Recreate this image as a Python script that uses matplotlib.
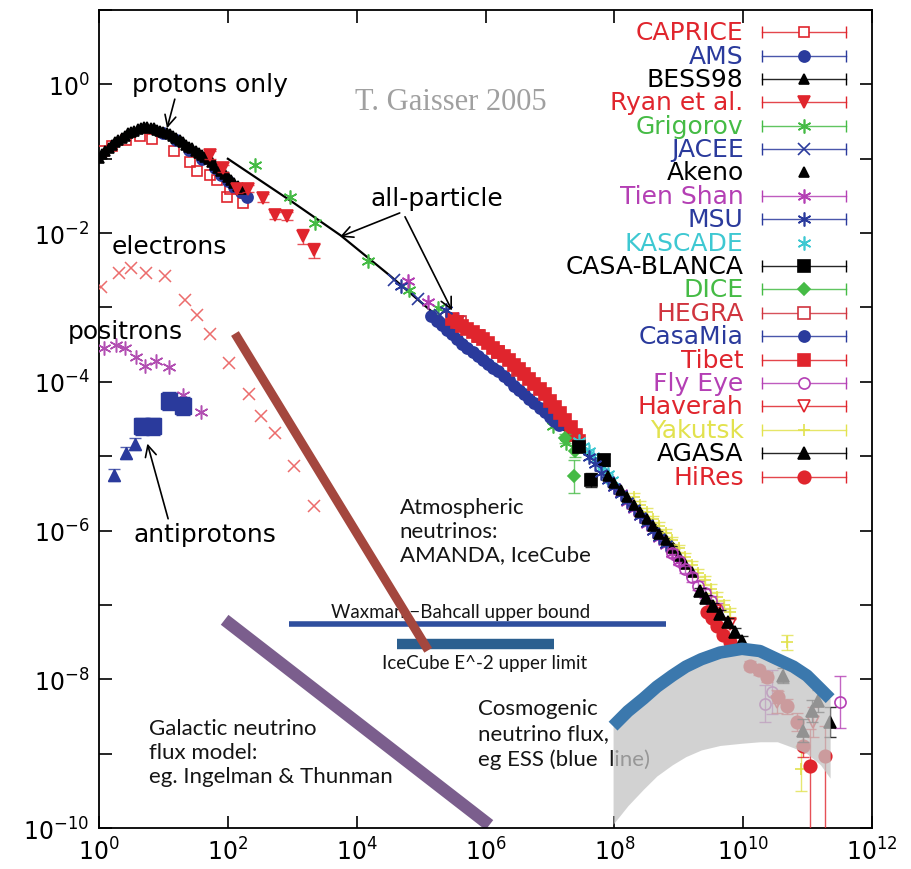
import numpy as np
import matplotlib
matplotlib.use('Agg')
import matplotlib.pyplot as plt
from matplotlib.ticker import FixedLocator, FuncFormatter, NullLocator

# all values are log10(E / GeV) and log10(flux)
caprice_e = [0.06, 0.20, 0.42, 0.63, 0.83, 1.17, 1.41, 1.52, 1.72, 1.83, 1.98, 2.03, 2.23]
caprice_f = [-0.90, -0.83, -0.75, -0.70, -0.73, -0.89, -1.04, -1.16, -1.22, -1.29, -1.51, -1.40, -1.60]

ams_e = [1.0, 1.2, 1.4, 1.6, 1.8, 1.9, 2.0, 2.1, 2.2, 2.3]
ams_f = [-0.66, -0.75, -0.88, -1.00, -1.13, -1.22, -1.30, -1.38, -1.45, -1.52]

bess_e = [0.00, 0.05, 0.10, 0.15, 0.20, 0.25, 0.30, 0.35, 0.40, 0.45, 0.50, 0.55, 0.60, 0.65,
          0.70, 0.75, 0.80, 0.85, 0.90, 0.95, 1.00, 1.05, 1.10, 1.15, 1.20, 1.25, 1.30, 1.35,
          1.40, 1.45, 1.50, 1.55, 1.60, 1.65, 1.70, 1.75, 1.80, 1.85, 1.90, 1.95, 2.00, 2.05,
          2.10, 2.15, 2.20]
bess_f = [-0.99, -0.94, -0.90, -0.86, -0.82, -0.78, -0.75, -0.72, -0.69, -0.66, -0.64, -0.62,
          -0.60, -0.58, -0.57, -0.57, -0.58, -0.59, -0.61, -0.62, -0.64, -0.65, -0.67, -0.69,
          -0.72, -0.75, -0.78, -0.81, -0.84, -0.86, -0.89, -0.92, -0.95, -0.97, -1.00, -1.04,
          -1.08, -1.12, -1.17, -1.20, -1.24, -1.28, -1.32, -1.37, -1.41]

ryan_e = [1.72, 1.92, 2.14, 2.31, 2.55, 2.73, 2.92, 3.16, 3.33]
ryan_f = [-0.95, -1.13, -1.40, -1.40, -1.53, -1.76, -1.77, -2.04, -2.23]
ryan_err = [0.05, 0.05, 0.06, 0.05, 0.05, 0.05, 0.05, 0.10, 0.10]

grigorov_e = [2.42, 2.97, 3.36, 4.17, 4.81, 5.27, 7.05, 7.25]
grigorov_f = [-1.09, -1.51, -1.87, -2.38, -2.77, -3.01, -4.60, -4.82]

jacee_e = [4.58, 4.95, 5.30]
jacee_f = [-2.63, -2.88, -3.10]

tienshan_e = [4.80, 5.11, 5.58, 8.0, 8.1, 8.2, 8.3, 8.4, 8.5, 8.6, 8.7, 8.8, 8.9, 9.0]
tienshan_f = [-2.65, -2.92, -3.15, -5.42, -5.50, -5.61, -5.71, -5.81, -5.91, -6.00, -6.10,
              -6.20, -6.30, -6.41]

msu_e = [4.69, 5.39, 7.60, 7.70, 7.80, 7.90, 8.00, 8.10, 8.20, 8.30, 8.40, 8.50, 8.60, 8.70, 8.80]
msu_f = [-2.71, -3.04, -5.01, -5.11, -5.22, -5.32, -5.41, -5.51, -5.60, -5.70, -5.80, -5.90,
         -6.00, -6.09, -6.18]

casamia_e = [5.16, 5.24, 5.32, 5.40, 5.48, 5.56, 5.64, 5.72, 5.80, 5.88, 5.96, 6.04, 6.12, 6.20,
             6.28, 6.36, 6.44, 6.52, 6.60, 6.68, 6.76, 6.84, 6.92, 7.00, 7.07, 7.14]
casamia_f = [-3.12, -3.18, -3.24, -3.30, -3.36, -3.43, -3.49, -3.54, -3.60, -3.65, -3.70, -3.76,
             -3.81, -3.86, -3.92, -3.98, -4.05, -4.11, -4.17, -4.23, -4.29, -4.35, -4.41, -4.47,
             -4.52, -4.58]

tibet_e = [5.48, 5.56, 5.64, 5.72, 5.80, 5.88, 5.96, 6.04, 6.12, 6.20, 6.28, 6.36, 6.44, 6.52,
           6.60, 6.68, 6.76, 6.84, 6.92, 7.00, 7.08, 7.16, 7.24, 7.32, 7.40, 7.45]
tibet_f = [-3.16, -3.20, -3.25, -3.29, -3.33, -3.38, -3.42, -3.48, -3.54, -3.60, -3.65, -3.71,
           -3.77, -3.83, -3.90, -3.96, -4.03, -4.10, -4.17, -4.26, -4.34, -4.42, -4.51, -4.61,
           -4.72, -4.79]

hegra_e = [5.6, 5.9, 6.2, 6.5]
hegra_f = [-3.20, -3.38, -3.60, -3.84]

dice_e = [7.23, 7.39, 7.38]
dice_f = [-4.76, -4.93, -5.27]
dice_err = [0.06, 0.08, 0.22]

casablanca_e = [7.45, 7.84, 7.63]
casablanca_f = [-4.87, -5.05, -5.32]
casablanca_err = [0.05, 0.08, 0.10]

kascade_e = [7.45, 7.52, 7.60, 7.67, 7.75, 7.82, 7.90, 7.97]
kascade_f = [-4.80, -4.86, -4.93, -5.00, -5.08, -5.15, -5.24, -5.32]

akeno_e = [7.9, 8.0, 8.1, 8.2, 8.3, 8.4, 8.5, 8.6, 8.7, 8.8, 8.9, 9.0, 9.1, 9.2]
akeno_f = [-5.27, -5.36, -5.45, -5.55, -5.65, -5.75, -5.85, -5.94, -6.04, -6.13, -6.23, -6.34,
           -6.45, -6.56]

flyeye_e = [8.9, 9.0, 9.1, 9.2, 9.3, 9.4, 9.5, 9.6, 10.45, 10.34, 11.51]
flyeye_f = [-6.30, -6.41, -6.52, -6.63, -6.74, -6.84, -6.95, -7.06, -8.17, -8.33, -8.30]
flyeye_err = [0.05, 0.05, 0.05, 0.06, 0.06, 0.06, 0.07, 0.08, 0.30, 0.25, 0.35]

haverah_e = [9.57, 9.80, 10.53, 11.09]
haverah_f = [-7.08, -7.25, -8.30, -8.57]
haverah_err = [0.05, 0.06, 0.15, 0.20]

yakutsk_e = [8.3, 8.4, 8.5, 8.6, 8.7, 8.8, 8.9, 9.0, 9.1, 9.2, 9.3, 9.4, 9.5, 9.6, 9.7, 9.8,
             10.68, 10.89]
yakutsk_f = [-5.55, -5.65, -5.75, -5.85, -5.94, -6.03, -6.13, -6.24, -6.35, -6.46, -6.57, -6.67,
             -6.78, -6.89, -7.00, -7.10, -7.50, -9.20]
yakutsk_err = [0.05] * 10 + [0.06] * 6 + [0.10, 0.30]

agasa_e = [9.33, 9.43, 9.53, 9.64, 9.77, 9.88, 9.98, 10.62, 10.93, 11.07, 11.16, 11.35]
agasa_f = [-6.81, -6.90, -7.01, -7.12, -7.23, -7.36, -7.48, -7.95, -8.69, -8.43, -8.29, -8.57]
agasa_err = [0.04, 0.04, 0.04, 0.05, 0.05, 0.05, 0.06, 0.10, 0.15, 0.15, 0.15, 0.20]

hires_e = [9.44, 9.52, 9.60, 9.69, 9.80, 10.11, 10.25, 10.37, 10.54, 10.68, 10.84, 10.93,
           11.04, 11.27]
hires_f = [-7.09, -7.17, -7.28, -7.40, -7.50, -7.82, -7.88, -7.97, -8.24, -8.36, -8.57, -8.90,
           -9.17, -9.03]
hires_lo = [0.04, 0.04, 0.04, 0.05, 0.05, 0.06, 0.06, 0.07, 0.08, 0.10, 0.12, 0.15, 1.00, 1.10]
hires_hi = [0.04, 0.04, 0.04, 0.05, 0.05, 0.06, 0.06, 0.07, 0.08, 0.10, 0.12, 0.15, 0.50, 0.40]

# all-particle spectrum
allpart_e = [2.0, 3.0, 3.75, 4.5, 5.16, 6.0, 7.19, 8.0, 9.0]
allpart_f = [-1.00, -1.58, -2.03, -2.56, -3.05, -3.70, -4.62, -5.35, -6.25]

electron_e = [0.03, 0.31, 0.50, 0.73, 1.03, 1.33, 1.52, 1.72, 2.02, 2.33, 2.52, 2.73, 3.02, 3.33]
electron_f = [-2.72, -2.54, -2.47, -2.54, -2.58, -2.90, -3.10, -3.36, -3.75, -4.17, -4.46,
              -4.69, -5.13, -5.67]

positron_e = [0.08, 0.27, 0.41, 0.58, 0.72, 0.89, 1.09, 1.30, 1.58]
positron_f = [-3.55, -3.51, -3.54, -3.66, -3.79, -3.72, -3.80, -4.18, -4.41]

pbar_tri_e = [0.23, 0.42, 0.56]
pbar_tri_f = [-5.25, -4.96, -4.83]
pbar_sq_e = [0.67, 0.84, 1.08, 1.30]
pbar_sq_f = [-4.60, -4.60, -4.26, -4.33]

# neutrino fluxes
atmos_e = [2.11, 5.11]
atmos_f = [-3.35, -7.61]
galactic_e = [1.95, 6.06]
galactic_f = [-7.20, -9.96]
waxman_e = [2.95, 8.80]
waxman_f = [-7.26, -7.26]
icecube_e = [4.63, 7.06]
icecube_f = [-7.53, -7.53]
cosmo_e = [7.98, 8.21, 8.45, 8.66, 8.90, 9.11, 9.35, 9.64, 9.98, 10.26, 10.53, 10.78, 10.99,
           11.20, 11.35]
cosmo_hi = [-8.63, -8.43, -8.26, -8.10, -7.95, -7.83, -7.73, -7.64, -7.59, -7.62, -7.73, -7.83,
            -7.95, -8.13, -8.26]
cosmo_lo = [-9.95, -9.70, -9.48, -9.30, -9.15, -9.04, -8.95, -8.89, -8.86, -8.84, -8.84, -8.92,
            -9.00, -9.15, -9.33]

legend_names = ['CAPRICE', 'AMS', 'BESS98', 'Ryan et al.', 'Grigorov', 'JACEE', 'Akeno',
                'Tien Shan', 'MSU', 'KASCADE', 'CASA-BLANCA', 'DICE', 'HEGRA', 'CasaMia',
                'Tibet', 'Fly Eye', 'Haverah', 'Yakutsk', 'AGASA', 'HiRes']

RED = '#e0252d'
BLUE = '#2a3a9c'
GREEN = '#45bb45'
MAG = '#b43fb4'
CYAN = '#3ec8d2'
YEL = '#e2e24e'
BLK = 'black'
STAR = (6, 2, 0)

# name: (color, marker, filled, size, has error bar)
styles = {
    'CAPRICE': (RED, 's', False, 7, True),
    'AMS': (BLUE, 'o', True, 8, True),
    'BESS98': (BLK, '^', True, 7, True),
    'Ryan et al.': (RED, 'v', True, 8, True),
    'Grigorov': (GREEN, STAR, True, 10, True),
    'JACEE': (BLUE, 'x', True, 9, True),
    'Akeno': (BLK, '^', True, 7, False),
    'Tien Shan': (MAG, STAR, True, 10, True),
    'MSU': (BLUE, STAR, True, 10, True),
    'KASCADE': (CYAN, STAR, True, 10, False),
    'CASA-BLANCA': (BLK, 's', True, 8, True),
    'DICE': (GREEN, 'D', True, 6, True),
    'HEGRA': ('#d0343e', 's', False, 8, True),
    'CasaMia': (BLUE, 'o', True, 8, True),
    'Tibet': (RED, 's', True, 8, True),
    'Fly Eye': (MAG, 'o', False, 8, True),
    'Haverah': (RED, 'v', False, 8, True),
    'Yakutsk': (YEL, '+', True, 9, True),
    'AGASA': (BLK, '^', True, 8, True),
    'HiRes': (RED, 'o', True, 9, True),
}


def draw(ax, name, le, lf, lo=None, hi=None, z=3):
    color, marker, filled, ms, _ = styles[name]
    e = 10.0 ** np.asarray(le)
    f = 10.0 ** np.asarray(lf)
    if lo is not None:
        hi = lo if hi is None else hi
        yerr = [f - f * 10.0 ** -np.asarray(lo), f * 10.0 ** np.asarray(hi) - f]
        ax.errorbar(e, f, yerr=yerr, fmt='none', ecolor=color, elinewidth=1,
                    capsize=4, capthick=1, zorder=z, alpha=0.8)
    ax.plot(e, f, ls='none', marker=marker, ms=ms, color=color,
            mfc=color if filled else 'none', mew=1.2, zorder=z)


def curve(ax, le, lf, **kw):
    ax.plot(10.0 ** np.asarray(le), 10.0 ** np.asarray(lf), **kw)


fig = plt.figure(figsize=(9.11, 8.70), dpi=100)
ax = fig.add_axes([0.1087, 0.0471, 0.8485, 0.9402])
ax.set_xscale('log')
ax.set_yscale('log')
ax.set_xlim(1, 1e12)
ax.set_ylim(1e-10, 1e1)

# neutrino curves
curve(ax, waxman_e, waxman_f, color='#2f4f9e', lw=4, solid_capstyle='butt', zorder=2)
curve(ax, icecube_e, icecube_f, color='#2b5f8f', lw=7.5, solid_capstyle='butt', zorder=2)
curve(ax, atmos_e, atmos_f, color='#a4473e', lw=6.5, solid_capstyle='butt', zorder=2.2)
curve(ax, galactic_e, galactic_f, color='#7b5e8d', lw=9, solid_capstyle='butt', zorder=2)

# all-particle line
curve(ax, allpart_e, allpart_f, color='black', lw=1.6, zorder=2.5)

# electrons, positrons, antiprotons
ax.plot(10.0 ** np.array(electron_e), 10.0 ** np.array(electron_f), ls='none', marker='x',
        ms=9, mew=1.1, color='#ec6c6c', zorder=3)
ax.plot(10.0 ** np.array(positron_e), 10.0 ** np.array(positron_f), ls='none', marker=STAR,
        ms=10, mew=1.1, color='#b24fb2', zorder=3)
te = 10.0 ** np.array(pbar_tri_e)
tf = 10.0 ** np.array(pbar_tri_f)
ax.errorbar(te, tf, yerr=[tf - tf * 10 ** -0.08, tf * 10 ** 0.08 - tf], fmt='none',
            ecolor=BLUE, elinewidth=1, capsize=4, zorder=3, alpha=0.8)
ax.plot(te, tf, ls='none', marker='^', ms=8, color=BLUE, zorder=3)
pe = 10.0 ** np.array(pbar_sq_e)
pf = 10.0 ** np.array(pbar_sq_f)
ax.errorbar(pe, pf, yerr=[pf - pf * 10 ** -0.12, pf * 10 ** 0.12 - pf], fmt='none',
            ecolor=BLUE, elinewidth=1, capsize=5, zorder=3)
ax.plot(pe, pf, ls='none', marker='s', ms=11, color=BLUE, zorder=3)

# cosmic ray data
draw(ax, 'CAPRICE', caprice_e, caprice_f)
draw(ax, 'AMS', ams_e, ams_f)
draw(ax, 'BESS98', bess_e, bess_f)
draw(ax, 'Ryan et al.', ryan_e, ryan_f, lo=ryan_err)
draw(ax, 'Grigorov', grigorov_e, grigorov_f)
draw(ax, 'JACEE', jacee_e, jacee_f)
draw(ax, 'Tien Shan', tienshan_e, tienshan_f)
draw(ax, 'CasaMia', casamia_e, casamia_f)
draw(ax, 'HEGRA', hegra_e, hegra_f)
draw(ax, 'Tibet', tibet_e, tibet_f)
draw(ax, 'DICE', dice_e, dice_f, lo=dice_err)
draw(ax, 'KASCADE', kascade_e, kascade_f)
draw(ax, 'CASA-BLANCA', casablanca_e, casablanca_f, lo=casablanca_err)
draw(ax, 'Yakutsk', yakutsk_e, yakutsk_f, lo=yakutsk_err)
draw(ax, 'MSU', msu_e, msu_f)
draw(ax, 'Akeno', akeno_e, akeno_f)
draw(ax, 'Fly Eye', flyeye_e, flyeye_f, lo=flyeye_err)
draw(ax, 'Haverah', haverah_e, haverah_f, lo=haverah_err)
draw(ax, 'HiRes', hires_e, hires_f, lo=hires_lo, hi=hires_hi)
draw(ax, 'AGASA', agasa_e, agasa_f, lo=agasa_err)

# cosmogenic neutrino band and ESS line
ce = 10.0 ** np.array(cosmo_e)
ax.fill_between(ce, 10.0 ** np.array(cosmo_lo), 10.0 ** np.array(cosmo_hi),
                color='#c4c4c4', alpha=0.75, lw=0, zorder=4)
ax.plot(ce, 10.0 ** np.array(cosmo_hi), color='#3b78ad', lw=9, solid_capstyle='butt', zorder=5)

# axes styling
for s in ax.spines.values():
    s.set_linewidth(1.3)
ax.xaxis.set_major_locator(FixedLocator([10.0 ** k for k in range(0, 13, 2)]))
ax.xaxis.set_minor_locator(NullLocator())
ax.yaxis.set_major_locator(FixedLocator([10.0 ** k for k in range(-10, 2)]))
ax.yaxis.set_minor_locator(NullLocator())
ax.xaxis.set_major_formatter(FuncFormatter(lambda v, p: r'$10^{%d}$' % round(np.log10(v))))
ax.yaxis.set_major_formatter(FuncFormatter(
    lambda v, p: r'$10^{%d}$' % round(np.log10(v)) if round(np.log10(v)) % 2 == 0 else ''))
ax.tick_params(which='both', direction='in', top=True, right=True, length=9, width=1.2,
               labelsize=17)
ax.tick_params(axis='x', pad=7)
ax.tick_params(axis='y', pad=7)

# cosmic ray annotations
arrow = dict(arrowstyle='->', lw=1.2, color='black', mutation_scale=20, shrinkA=0, shrinkB=0)
ax.annotate('protons only', xy=(10 ** 1.056, 10 ** -0.59), xytext=(10 ** 1.72, 10 ** 0.0),
            fontsize=18, ha='center', va='center',
            arrowprops=dict(arrow, relpos=(0.28, 0.0)))
ax.annotate('all-particle', xy=(10 ** 3.74, 10 ** -2.05), xytext=(10 ** 5.25, 10 ** -1.53),
            fontsize=18, ha='center', va='center', arrowprops=dict(arrow, relpos=(0.27, 0.0)))
ax.annotate('', xy=(10 ** 5.48, 10 ** -3.04), xytext=(10 ** 4.75, 10 ** -1.78),
            arrowprops=arrow)
ax.text(10 ** 0.2, 10 ** -2.17, 'electrons', fontsize=18, va='center')
ax.text(10 ** -0.48, 10 ** -3.32, 'positrons', fontsize=18, va='center', clip_on=False)
ax.annotate('antiprotons', xy=(10 ** 0.75, 10 ** -4.83), xytext=(10 ** 0.53, 10 ** -6.04),
            fontsize=18, ha='left', va='center', arrowprops=dict(arrow, relpos=(0.25, 1.0)))
ax.text(10 ** 3.98, 10 ** -0.23, 'T. Gaisser 2005', fontsize=22, color='#a0a0a0',
        family='Liberation Serif', va='center')

# neutrino annotations
nfont = dict(family='Lato', fontsize=16, color='#151515')
ax.text(10 ** 4.67, 10 ** -6.0, 'Atmospheric\nneutrinos:\nAMANDA, IceCube', va='center',
        linespacing=1.25, **nfont)
ax.text(10 ** 0.78, 10 ** -8.98, 'Galactic neutrino\nflux model:\neg. Ingelman & Thunman',
        va='center', linespacing=1.25, **nfont)
ax.text(10 ** 5.89, 10 ** -8.73, 'Cosmogenic\nneutrino flux,\neg ESS (blue  line)',
        va='center', linespacing=1.3, **nfont)
ax.text(10 ** 5.62, 10 ** -7.09, 'Waxman \u2212Bahcall upper bound', ha='center', va='center',
        family='Lato', fontsize=13.5, color='#151515', zorder=1.5)
ax.text(10 ** 5.99, 10 ** -7.77, 'IceCube E^-2 upper limit', ha='center', va='center',
        family='Lato', fontsize=13.5, color='#151515')

# legend drawn along the right side
x_txt, x0, x1, xm = 0.834, 0.858, 0.966, 0.912
for i, name in enumerate(legend_names):
    color, marker, filled, ms, has_err = styles[name]
    y = 0.973 - i * 0.0286
    ax.text(x_txt, y, name, transform=ax.transAxes, ha='right', va='center',
            fontsize=18, color=color)
    if has_err:
        ax.plot([x0, x1], [y, y], transform=ax.transAxes, color=color, lw=1, alpha=0.85)
        ax.plot([x0, x1], [y, y], transform=ax.transAxes, ls='none', marker='|', ms=9,
                mew=1, color=color)
    ax.plot([xm], [y], transform=ax.transAxes, ls='none', marker=marker, ms=ms,
            color=color, mfc=color if filled else 'white', mew=1.2)

fig.savefig('out.png', dpi=100)
